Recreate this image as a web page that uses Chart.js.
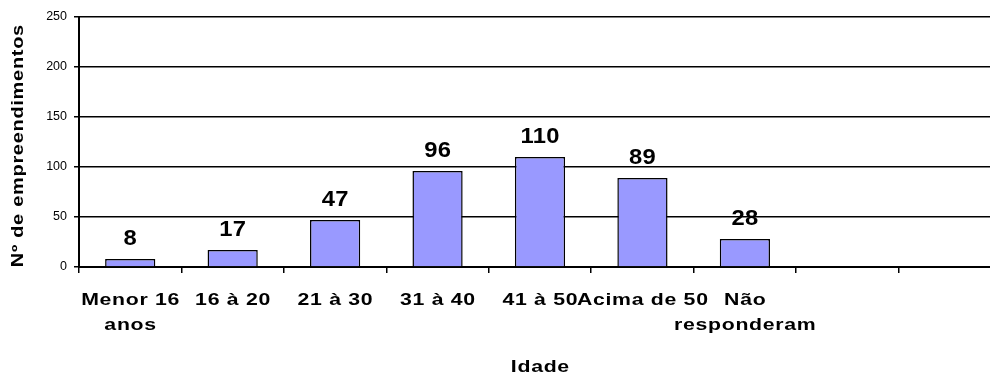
<!DOCTYPE html>
<html>
<head>
<meta charset="utf-8">
<script src="https://cdn.jsdelivr.net/npm/chart.js@4.4.1/dist/chart.umd.min.js"></script>
<style>
  html, body { margin: 0; padding: 0; overflow: hidden; background: #fff; }
  #wrap { width: 1001px; height: 378px; }
</style>
</head>
<body>
<div id="wrap"><canvas id="c" width="1001" height="378"></canvas></div>
<script>
// Age groups (two trailing empty slots keep the axis width)
const categories = [
  ['Menor 16', 'anos'], ['16 à 20'], ['21 à 30'], ['31 à 40'], ['41 à 50'],
  ['Acima de 50'], ['Não', 'responderam'], [''], ['']
];
// Number of enterprises per age group
const counts = [8, 17, 47, 96, 110, 89, 28, null, null];
const yTicks = [0, 50, 100, 150, 200, 250];
const yTitle = 'Nº de empreendimentos';
const xTitle = 'Idade';

const FONT = "'Liberation Sans', Arial, sans-serif";

// Draws text horizontally widened by sx, with extra letter spacing (px)
function wideText(ctx, text, x, y, sx, spacing) {
  ctx.save();
  ctx.translate(x, y);
  ctx.scale(sx, 1);
  ctx.letterSpacing = (spacing / sx) + 'px';
  ctx.textAlign = 'center';
  ctx.fillText(text, spacing / sx / 2, 0);
  ctx.restore();
}

const textPlugin = {
  id: 'texts',
  afterDraw(chart) {
    const ctx = chart.ctx;
    const xs = chart.scales.x;
    const area = chart.chartArea;
    ctx.save();
    ctx.fillStyle = '#000';
    ctx.textBaseline = 'alphabetic';

    // category labels
    ctx.font = 'bold 17px ' + FONT;
    categories.forEach((lines, i) => {
      const x = xs.getPixelForValue(i);
      lines.forEach((ln, j) => {
        if (ln) wideText(ctx, ln, x, area.bottom + 38 + j * 25, 1.25, 0.7);
      });
    });

    // value labels above bars
    ctx.font = 'bold 22px ' + FONT;
    const meta = chart.getDatasetMeta(0);
    meta.data.forEach((bar, i) => {
      if (counts[i] == null) return;
      wideText(ctx, String(counts[i]), bar.x, bar.y - 14, 1.08, 0.3);
    });

    // x axis title
    ctx.font = 'bold 17px ' + FONT;
    wideText(ctx, xTitle, (area.left + area.right) / 2, 372, 1.25, 0.7);

    // y axis title
    ctx.save();
    ctx.translate(19, (25 + 267) / 2);
    ctx.rotate(-Math.PI / 2);
    ctx.font = 'bold 16px ' + FONT;
    ctx.textBaseline = 'middle';
    wideText(ctx, yTitle, 0, 0, 1.25, 0.7);
    ctx.restore();

    ctx.restore();
  }
};

new Chart(document.getElementById('c'), {
  type: 'bar',
  data: {
    labels: categories.map(l => l.join(' ')),
    datasets: [{
      data: counts,
      backgroundColor: '#9999FF',
      borderColor: '#000',
      borderWidth: 1.5,
      borderSkipped: 'bottom',
      barPercentage: 0.49,
      categoryPercentage: 1.0
    }]
  },
  options: {
    responsive: false,
    animation: false,
    devicePixelRatio: 1,
    layout: { padding: { top: 17, right: 0, left: 0, bottom: 0 } },
    plugins: { legend: { display: false }, tooltip: { enabled: false } },
    scales: {
      x: {
        offset: true,
        grid: {
          display: true, drawOnChartArea: false, drawTicks: true,
          tickLength: 6, color: '#000', lineWidth: 1.5, offset: true
        },
        border: { display: true, color: '#000', width: 2 },
        ticks: { display: false },
        afterFit(scale) { scale.height = 111; }
      },
      y: {
        min: 0, max: 250,
        afterBuildTicks(scale) { scale.ticks = yTicks.map(v => ({ value: v })); },
        ticks: {
          font: { family: FONT, size: 12.5 },
          color: '#000',
          padding: 7
        },
        grid: { color: '#000', lineWidth: 1.5, tickLength: 5, drawTicks: true },
        border: { display: true, color: '#000', width: 2 },
        afterFit(scale) { scale.width = 79; }
      }
    }
  },
  plugins: [textPlugin]
});
</script>
</body>
</html>
